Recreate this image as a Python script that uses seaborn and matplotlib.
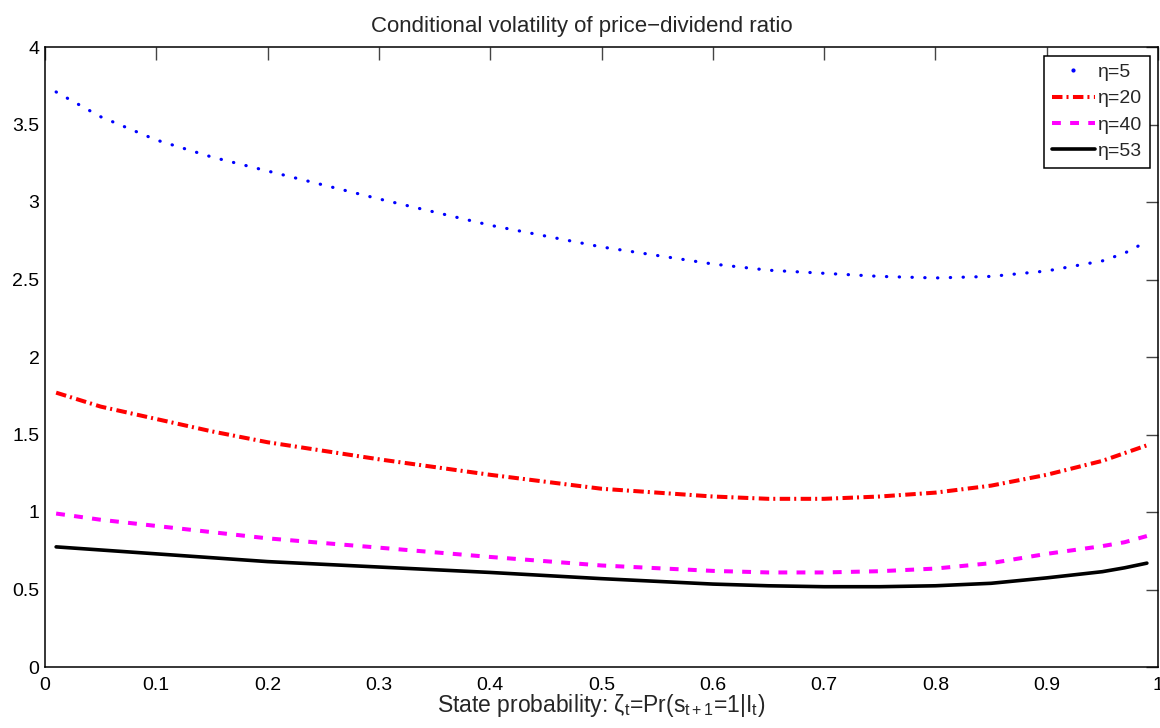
import numpy as np
import pandas as pd
import matplotlib
matplotlib.use("Agg")
import matplotlib.pyplot as plt
from matplotlib.lines import Line2D
import seaborn as sns

# State probability grid and conditional volatility for each eta
zeta = [0.01, 0.05, 0.10, 0.15, 0.20, 0.30, 0.40, 0.50, 0.60, 0.65, 0.70, 0.75, 0.80, 0.85, 0.90, 0.95, 0.97, 0.99]
vol_eta5 = [3.71, 3.55, 3.40, 3.29, 3.20, 3.02, 2.85, 2.71, 2.60, 2.56, 2.54, 2.52, 2.51, 2.52, 2.555, 2.62, 2.67, 2.745]
vol_eta20 = [1.77, 1.68, 1.60, 1.52, 1.45, 1.34, 1.24, 1.15, 1.10, 1.085, 1.085, 1.10, 1.125, 1.17, 1.24, 1.33, 1.38, 1.43]
vol_eta40 = [0.99, 0.95, 0.91, 0.87, 0.83, 0.77, 0.71, 0.655, 0.62, 0.61, 0.61, 0.618, 0.635, 0.67, 0.73, 0.78, 0.805, 0.845]
vol_eta53 = [0.775, 0.755, 0.73, 0.705, 0.68, 0.645, 0.61, 0.57, 0.535, 0.524, 0.518, 0.518, 0.524, 0.54, 0.575, 0.615, 0.64, 0.67]

labels = ["η=5", "η=20", "η=40", "η=53"]
series = [vol_eta5, vol_eta20, vol_eta40, vol_eta53]

sns.set_theme(style="white")
plt.rcParams["font.family"] = ["Liberation Sans", "DejaVu Sans"]
plt.rcParams["mathtext.fontset"] = "custom"
plt.rcParams["mathtext.rm"] = "Liberation Sans"
plt.rcParams["mathtext.it"] = "Liberation Sans"

fig = plt.figure(figsize=(11.6, 7.28), dpi=100)
ax = fig.add_axes([45 / 1160, 61 / 728, 1113 / 1160, 620 / 728])

styles = [
    dict(color="#0000ff", lw=2.3, linestyle=(0, (0.1, 3.9)), dash_capstyle="round"),
    dict(color="#ff0000", lw=2.9, linestyle=(0, (2.6, 1.0, 0.5, 1.1)), dash_capstyle="butt"),
    dict(color="#ff00ff", lw=2.9, linestyle=(0, (2.2, 2.3)), dash_capstyle="butt"),
    dict(color="#000000", lw=2.6, linestyle="-"),
]

for lab, vals, st in zip(labels, series, styles):
    df = pd.DataFrame({"zeta": zeta, "vol": vals})
    sns.lineplot(data=df, x="zeta", y="vol", ax=ax, label=lab, **st)

ax.set_xlim(0, 1)
ax.set_ylim(0, 4)
ax.set_xticks(np.arange(0, 1.01, 0.1))
ax.set_xticklabels(["0", "0.1", "0.2", "0.3", "0.4", "0.5", "0.6", "0.7", "0.8", "0.9", "1"])
ax.set_yticks(np.arange(0, 4.01, 0.5))
ax.set_yticklabels(["0", "0.5", "1", "1.5", "2", "2.5", "3", "3.5", "4"])
ax.tick_params(direction="in", length=9, width=1.0, color="#444444",
               top=True, right=True, labelsize=14, labelcolor="black")
ax.tick_params(axis="x", pad=7)
ax.tick_params(axis="y", pad=4)
for sp in ax.spines.values():
    sp.set_color("black")
    sp.set_linewidth(1.1)
ax.grid(False)

ax.set_title("Conditional volatility of price\u2212dividend ratio", fontsize=16, pad=11, x=0.482)
ax.set_xlabel("State probability: ζ$_\\mathregular{t}$=Pr(s$_\\mathregular{t+1}$=1|I$_\\mathregular{t}$)",
              fontsize=16.5, labelpad=-1)
ax.set_ylabel("")

handles = [Line2D([], [], color="#0000ff", marker=".", markersize=4, linestyle="none")]
handles += ax.get_lines()[1:4]
leg = ax.legend(handles, labels, loc="upper right", fontsize=14, frameon=True,
                fancybox=False, framealpha=1, edgecolor="black", handlelength=2.2,
                handletextpad=0.15, borderpad=0.4, labelspacing=0.45,
                bbox_to_anchor=(0.9925, 0.986), borderaxespad=0)
leg.get_frame().set_linewidth(1.1)

fig.savefig("out.png", dpi=100)
